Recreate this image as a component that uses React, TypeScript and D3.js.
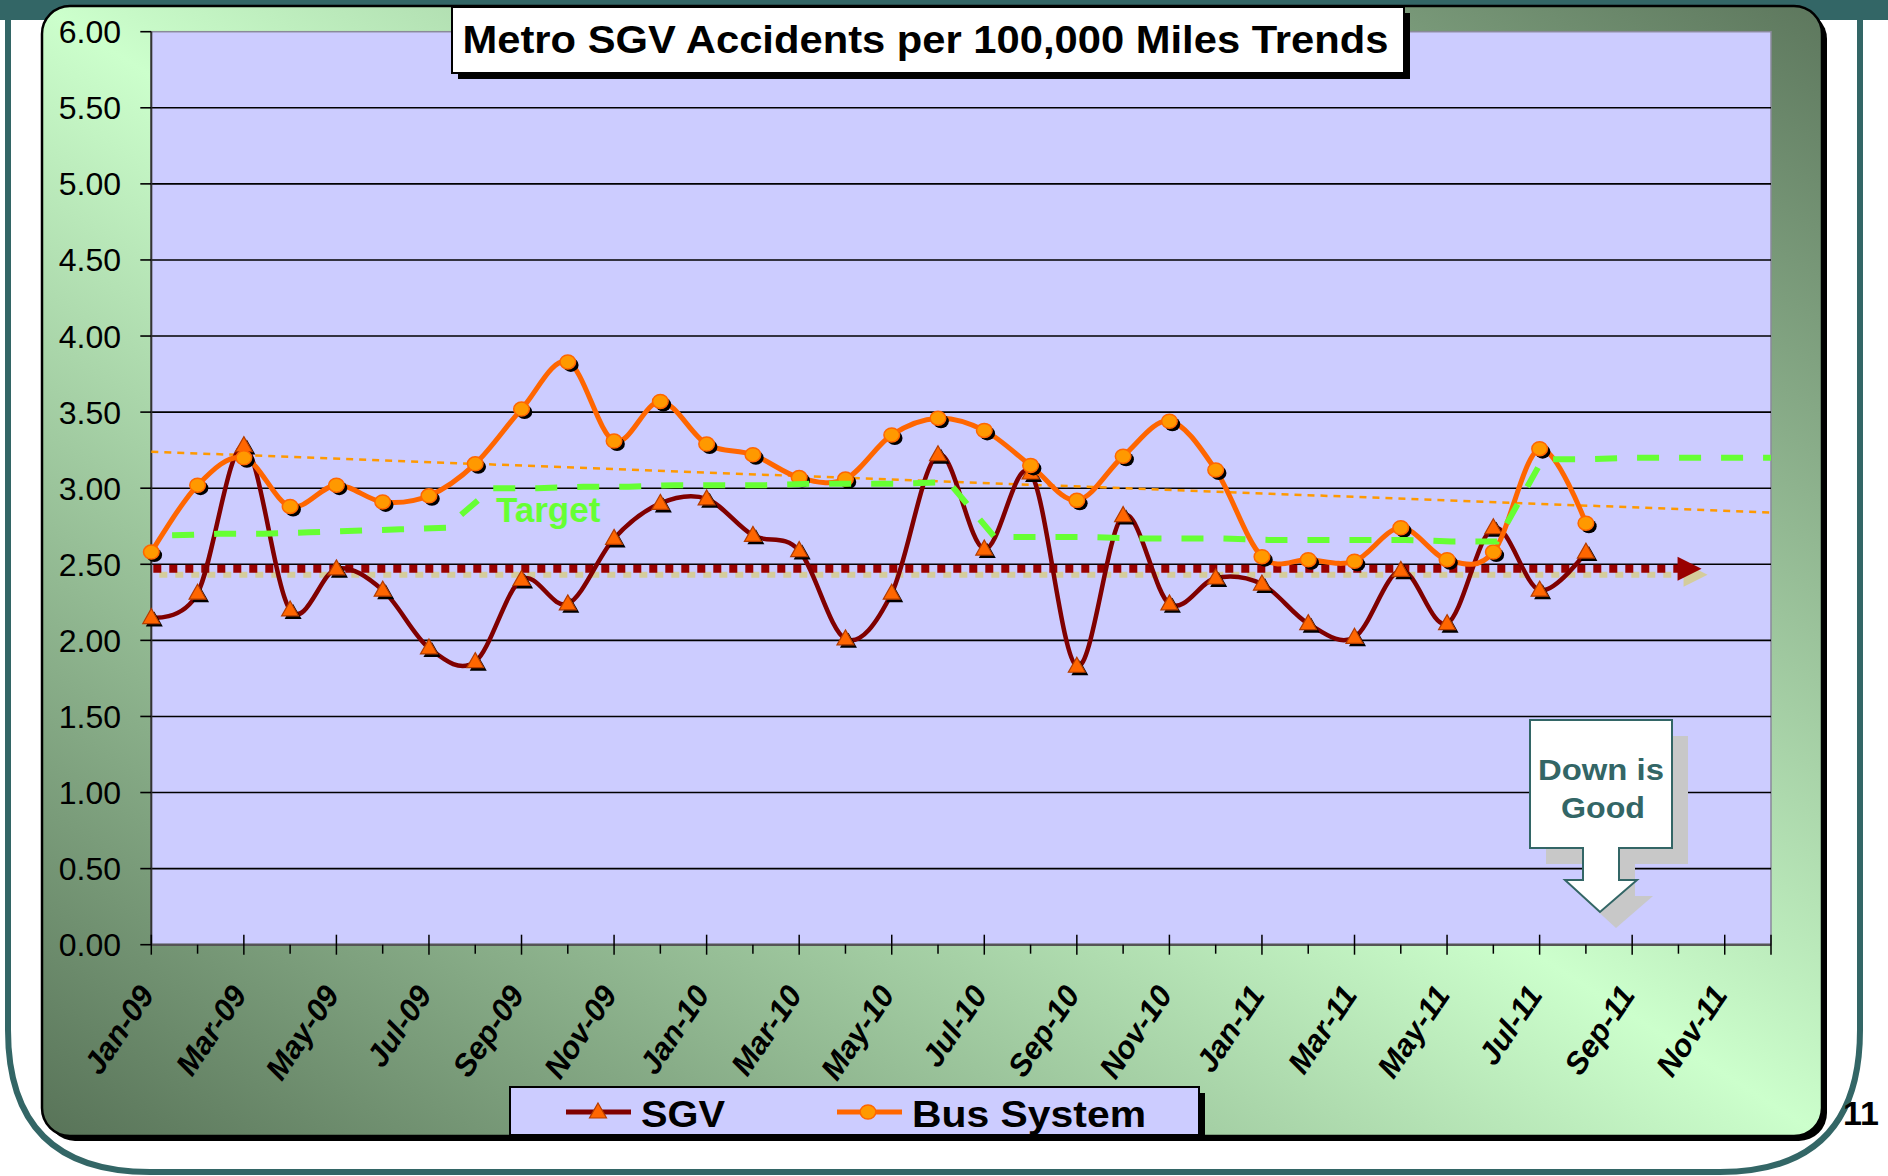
import * as d3 from "d3";

const months = [
  "Jan-09", "Feb-09", "Mar-09", "Apr-09", "May-09", "Jun-09", "Jul-09", "Aug-09", "Sep-09", "Oct-09", "Nov-09", "Dec-09",
  "Jan-10", "Feb-10", "Mar-10", "Apr-10", "May-10", "Jun-10", "Jul-10", "Aug-10", "Sep-10", "Oct-10", "Nov-10", "Dec-10",
  "Jan-11", "Feb-11", "Mar-11", "Apr-11", "May-11", "Jun-11", "Jul-11", "Aug-11", "Sep-11", "Oct-11", "Nov-11", "Dec-11",
];
const tickLabels = [
  "Jan-09", "Mar-09", "May-09", "Jul-09", "Sep-09", "Nov-09", "Jan-10", "Mar-10", "May-10",
  "Jul-10", "Sep-10", "Nov-10", "Jan-11", "Mar-11", "May-11", "Jul-11", "Sep-11", "Nov-11",
];

const sgv = [
  2.15, 2.31, 3.28, 2.2, 2.47, 2.33, 1.95, 1.86, 2.4, 2.24, 2.67, 2.9,
  2.93, 2.69, 2.59, 2.01, 2.31, 3.22, 2.6, 3.1, 1.83, 2.82, 2.24, 2.41,
  2.37, 2.11, 2.02, 2.46, 2.11, 2.74, 2.33, 2.58,
];
const busSystem = [
  2.58, 3.02, 3.2, 2.88, 3.02, 2.91, 2.95, 3.16, 3.52, 3.83, 3.31, 3.57,
  3.29, 3.22, 3.07, 3.06, 3.35, 3.46, 3.38, 3.15, 2.92, 3.21, 3.44, 3.12,
  2.55, 2.53, 2.52, 2.74, 2.53, 2.58, 3.26, 2.77,
];
const target = [
  2.69, 2.7, 2.7, 2.71, 2.72, 2.73, 2.74,
  3.0, 3.0, 3.01, 3.01, 3.02, 3.02, 3.02, 3.03, 3.03, 3.03, 3.04,
  2.68, 2.68, 2.68, 2.67, 2.67, 2.67, 2.66, 2.66, 2.66, 2.66, 2.65, 2.65,
  3.19, 3.19, 3.2, 3.2, 3.2, 3.2,
];
const busTrend = [3.24, 2.84]; // linear trend, Jan-09 .. Dec-11
const goodLevel = 2.47; // dotted "down is good" arrow level
const goodSpan = [0, 33.5]; // months covered by that arrow

const yTicks = [0, 0.5, 1, 1.5, 2, 2.5, 3, 3.5, 4, 4.5, 5, 5.5, 6];

const W = 1888;
const H = 1176;
const FONT = "'Liberation Sans', Arial, sans-serif";
const TEAL = "#336666";

const x = d3.scalePoint<string>().domain(months).range([151.3, 1771]);
const xi = d3.scaleLinear().domain([0, months.length - 1]).range([151.3, 1771]);
const xt = d3.scaleLinear().domain([0, target.length - 1]).range([151.3 + x.step() * 0.45, 1771]);
const y = d3.scaleLinear().domain([0, 6]).range([944.7, 31.7]);

const smooth = d3
  .line<number>()
  .x((_, i) => x(months[i]) as number)
  .y((d) => y(d))
  .curve(d3.curveCardinal.tension(0));

const targetLine = d3
  .line<number>()
  .x((_, i) => xt(i))
  .y((d) => y(d));

const tri = "M0,-9 L8.5,6 L-8.5,6 Z";

export default function App() {
  const [x0, x1] = xi.range();
  const [yb, yt] = y.range();
  const arrowX = xi(goodSpan[1]);
  const arrowY = y(goodLevel);

  return (
    <svg width={W} height={H} style={{ position: "absolute", left: 0, top: 0, background: "#fff" }} fontFamily={FONT}>
      <defs>
        <linearGradient id="frameGrad" x1="0" y1="1" x2="1" y2="0">
          <stop offset="0" stopColor="#587358" />
          <stop offset="0.5" stopColor="#ccffcc" />
          <stop offset="1" stopColor="#5d775d" />
        </linearGradient>
      </defs>

      {/* slide decoration */}
      <rect x={0} y={0} width={W} height={20} fill={TEAL} />
      <path d="M8,20 V1030 Q8,1172 150,1172 H1720 Q1860,1172 1860,1030 V20" fill="none" stroke={TEAL} strokeWidth={6} />

      {/* chart frame */}
      <rect x={47} y={11} width={1780} height={1130} rx={28} fill="#000" />
      <rect x={42} y={6} width={1780} height={1130} rx={28} fill="url(#frameGrad)" stroke="#000" strokeWidth={2.5} />

      {/* plot area */}
      <rect x={x0} y={yt} width={x1 - x0} height={yb - yt} fill="#ccccff" stroke="#8a8a9a" strokeWidth={1.5} />
      {yTicks.filter((t) => t > 0 && t < 6).map((t) => (
        <line key={t} x1={x0} x2={x1} y1={y(t)} y2={y(t)} stroke="#000" strokeWidth={1.6} />
      ))}

      {/* y axis */}
      <line x1={x0} x2={x0} y1={yt} y2={yb} stroke="#333" strokeWidth={2} />
      {yTicks.map((t) => (
        <g key={t}>
          <line x1={x0 - 11} x2={x0} y1={y(t)} y2={y(t)} stroke="#000" strokeWidth={1.6} />
          <text x={121} y={y(t) + 11.5} textAnchor="end" fontSize={32} fill="#000">
            {t.toFixed(2)}
          </text>
        </g>
      ))}

      {/* x axis */}
      <line x1={x0} x2={x1} y1={yb} y2={yb} stroke="#555" strokeWidth={2.5} />
      {months.map((m, i) =>
        tickLabels.includes(m) || i === months.length - 1 ? (
          <line key={m} x1={x(m)} x2={x(m)} y1={yb - 10} y2={yb + 10} stroke="#000" strokeWidth={1.5} />
        ) : (
          <line key={m} x1={x(m)} x2={x(m)} y1={yb} y2={yb + 9} stroke="#000" strokeWidth={1.5} />
        )
      )}
      {tickLabels.map((m) => (
        <text
          key={m}
          transform={`translate(${(x(m) as number) + 4},995) rotate(-56)`}
          textAnchor="end"
          fontSize={31}
          fontWeight="bold"
          fontStyle="italic"
          fill="#000"
        >
          {m}
        </text>
      ))}

      {/* trend line */}
      <line
        x1={xi(0)}
        x2={xi(months.length - 1)}
        y1={y(busTrend[0])}
        y2={y(busTrend[1])}
        stroke="#ff9900"
        strokeWidth={2.5}
        strokeDasharray="7 6"
      />

      {/* dotted arrow with shadow */}
      <g transform="translate(6,6)">
        <line x1={xi(goodSpan[0]) + 2} x2={arrowX - 22} y1={arrowY} y2={arrowY} stroke="#d4cc9c" strokeWidth={6} strokeDasharray="8 8" />
        <path d={`M${arrowX - 24},${arrowY - 12} L${arrowX},${arrowY} L${arrowX - 24},${arrowY + 12} Z`} fill="#d4cc9c" />
      </g>
      <line x1={xi(goodSpan[0]) + 2} x2={arrowX - 22} y1={arrowY} y2={arrowY} stroke="#990000" strokeWidth={8} strokeDasharray="8 8" />
      <path d={`M${arrowX - 24},${arrowY - 12} L${arrowX},${arrowY} L${arrowX - 24},${arrowY + 12} Z`} fill="#990000" />

      {/* SGV */}
      <path d={smooth(sgv) ?? ""} fill="none" stroke="#800000" strokeWidth={4.5} />
      {sgv.map((v, i) => (
        <g key={i} transform={`translate(${x(months[i])},${y(v)})`}>
          <path d={tri} transform="translate(3,3)" fill="#000" />
          <path d={tri} fill="#ff6600" stroke="#b33c00" strokeWidth={1.2} />
        </g>
      ))}

      {/* Bus System */}
      <path d={smooth(busSystem) ?? ""} fill="none" stroke="#ff6600" strokeWidth={5} />
      {busSystem.map((v, i) => (
        <g key={i} transform={`translate(${x(months[i])},${y(v)})`}>
          <ellipse cx={3} cy={3} rx={7.8} ry={7} fill="#000" />
          <ellipse rx={7.8} ry={7} fill="#ff9900" stroke="#ff6600" strokeWidth={1.5} />
        </g>
      ))}

      {/* Target */}
      <path d={targetLine(target) ?? ""} fill="none" stroke="#66ff33" strokeWidth={6} strokeDasharray="22 20" />
      <text x={496} y={522} fontSize={35} fontWeight="bold" fill="#66ff33">
        Target
      </text>

      {/* Down is Good callout */}
      <path
        d="M1546,736 H1688 V864 H1635 V896 H1653 L1616,928 L1581,896 H1599 V864 H1546 Z"
        fill="#c8c8c8"
      />
      <path
        d="M1530,720 H1672 V848 H1619 V880 H1637 L1600,912 L1565,880 H1583 V848 H1530 Z"
        fill="#fff"
        stroke={TEAL}
        strokeWidth={2}
      />
      <text x={1601} y={780} textAnchor="middle" fontSize={30} fontWeight="bold" fill={TEAL} textLength={126} lengthAdjust="spacingAndGlyphs">
        Down is
      </text>
      <text x={1603} y={818} textAnchor="middle" fontSize={30} fontWeight="bold" fill={TEAL} textLength={84} lengthAdjust="spacingAndGlyphs">
        Good
      </text>

      {/* title */}
      <rect x={458} y={13} width={952} height={66} fill="#000" />
      <rect x={452} y={7} width={952} height={66} fill="#fff" stroke="#000" strokeWidth={2} />
      <text x={925.5} y={53} textAnchor="middle" fontSize={38} fontWeight="bold" fill="#000" textLength={926} lengthAdjust="spacingAndGlyphs">
        Metro SGV Accidents per 100,000 Miles Trends
      </text>

      {/* legend */}
      <rect x={516} y={1093} width={689} height={48} fill="#000" />
      <rect x={510} y={1087} width={689} height={48} fill="#ccccff" stroke="#000" strokeWidth={2} />
      <line x1={566} x2={631} y1={1112} y2={1112} stroke="#800000" strokeWidth={5} />
      <path d={tri} transform="translate(598,1112)" fill="#ff6600" stroke="#b33c00" strokeWidth={1.2} />
      <text x={641} y={1127} fontSize={37} fontWeight="bold" fill="#000" textLength={84} lengthAdjust="spacingAndGlyphs">
        SGV
      </text>
      <line x1={837} x2={902} y1={1112} y2={1112} stroke="#ff6600" strokeWidth={5} />
      <ellipse cx={868} cy={1112} rx={7.8} ry={7} fill="#ff9900" stroke="#ff6600" strokeWidth={1.5} />
      <text x={912} y={1127} fontSize={37} fontWeight="bold" fill="#000" textLength={234} lengthAdjust="spacingAndGlyphs">
        Bus System
      </text>

      {/* page number */}
      <text x={1843} y={1125} fontSize={34} fontWeight="bold" fill="#000">
        11
      </text>
    </svg>
  );
}
